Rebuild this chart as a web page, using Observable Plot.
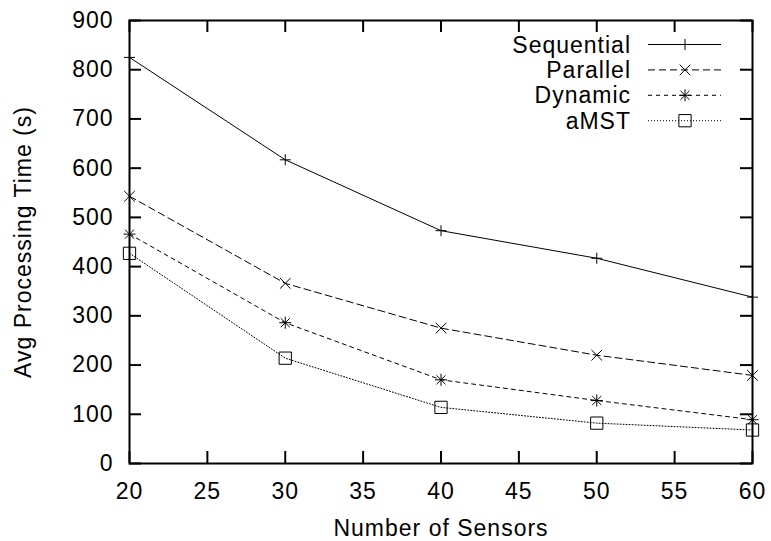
<!DOCTYPE html>
<html><head><meta charset="utf-8">
<script src="https://cdn.jsdelivr.net/npm/d3@7"></script>
<script src="https://cdn.jsdelivr.net/npm/@observablehq/plot@0.6"></script>
<style>body{margin:0;background:#fff} #chart{position:relative;width:771px;height:541px}</style>
</head><body><div id="chart"></div>
<script>
const sensors = [20, 30, 40, 50, 60];
const sequential = [825, 617, 473, 417, 338];
const parallel = [543, 366, 275, 220, 179];
const dynamic = [466, 286, 170, 128, 89];
const amst = [427, 214, 114, 82, 68];
const seriesNames = ["Sequential", "Parallel", "Dynamic", "aMST"];
const xTicks = [20, 25, 30, 35, 40, 45, 50, 55, 60];
const yTicks = [0, 100, 200, 300, 400, 500, 600, 700, 800, 900];
const xLabel = "Number of Sensors";
const yLabel = "Avg Processing Time (s)";

const values = [sequential, parallel, dynamic, amst];
const rows = values.map((vs, i) => sensors.map((x, j) => ({series: seriesNames[i], x, y: vs[j]})));

const W = 771, H = 541, mL = 129, mR = 19, mT = 20, mB = 78;
const pw = W - mL - mR, ph = H - mT - mB, tk = 12;
const dashes = [null, "7,4", "4,4", "1,2"];

const marks = [
  Plot.frame({stroke: "black", strokeWidth: 2}),
  Plot.tickY(yTicks, {y: d => d, insetRight: pw - tk, strokeWidth: 2}),
  Plot.tickY(yTicks, {y: d => d, insetLeft: pw - tk, strokeWidth: 2}),
  Plot.tickX(xTicks, {x: d => d, insetTop: ph - tk, strokeWidth: 2}),
  Plot.tickX(xTicks, {x: d => d, insetBottom: ph - tk, strokeWidth: 2}),
  Plot.axisX({ticks: xTicks, tickSize: 0, tickPadding: 19, label: null, tickFormat: d => d}),
  Plot.axisY({ticks: yTicks, tickSize: 0, tickPadding: 16, label: null, tickFormat: d => d}),
  Plot.text([xLabel], {text: d => d, frameAnchor: "bottom", textAnchor: "middle", dy: 65, lineAnchor: "middle"}),
  Plot.text([yLabel], {text: d => d, frameAnchor: "left", textAnchor: "middle", rotate: -90, dx: -106, lineAnchor: "middle"})
];
rows.forEach((r, i) => {
  marks.push(Plot.line(r, {x: "x", y: "y", stroke: "black", strokeWidth: 1, strokeDasharray: dashes[i]}));
});
marks.push(Plot.dot(rows[0], {x: "x", y: "y", symbol: "plus", r: 3.63, stroke: "black", strokeWidth: 1}));
marks.push(Plot.dot(rows[1], {x: "x", y: "y", symbol: "times", r: 4.9, stroke: "black", strokeWidth: 1}));
marks.push(Plot.dot(rows[2], {x: "x", y: "y", symbol: "plus", r: 3.95, stroke: "black", strokeWidth: 1}));
marks.push(Plot.dot(rows[2], {x: "x", y: "y", symbol: "times", r: 4.17, stroke: "black", strokeWidth: 1}));
marks.push(Plot.dot(rows[3], {x: "x", y: "y", symbol: "square2", r: 7.8, stroke: "black", strokeWidth: 1}));

const chart = Plot.plot({
  width: W, height: H,
  marginLeft: mL, marginRight: mR, marginTop: mT, marginBottom: mB,
  x: {domain: [20, 60]},
  y: {domain: [0, 900]},
  style: {fontFamily: "'Liberation Sans', Arial, sans-serif", fontSize: "23px", letterSpacing: "1px", background: "white", color: "black", overflow: "visible"},
  marks
});
document.getElementById("chart").appendChild(chart);

// legend (gnuplot-style key, inside the frame at top right)
const svg = d3.select(chart);
const key = svg.append("g").attr("font-family", "'Liberation Sans', Arial, sans-serif").attr("font-size", 23).attr("letter-spacing", "1px");
const keyTextX = 631, keyLine0 = 648, keyLine1 = 721, keyMark = 685, keyY0 = 44.5, keyDy = 25.4;
const symDefs = [
  [[d3.symbolPlus, 3.63]],
  [[d3.symbolTimes, 4.9]],
  [[d3.symbolPlus, 3.95], [d3.symbolTimes, 4.17]],
  [[d3.symbolSquare2, 7.8]]
];
seriesNames.forEach((name, i) => {
  const y = keyY0 + i * keyDy;
  key.append("text").attr("x", keyTextX).attr("y", y).attr("dy", "0.35em").attr("text-anchor", "end").attr("fill", "black").text(name);
  key.append("line").attr("x1", keyLine0).attr("x2", keyLine1).attr("y1", y).attr("y2", y)
    .attr("stroke", "black").attr("stroke-width", 1).attr("stroke-dasharray", dashes[i]);
  symDefs[i].forEach(([type, r]) => {
    key.append("path").attr("d", d3.symbol(type, Math.PI * r * r)()).attr("transform", `translate(${keyMark},${y})`)
      .attr("fill", "none").attr("stroke", "black").attr("stroke-width", 1);
  });
});
</script></body></html>
